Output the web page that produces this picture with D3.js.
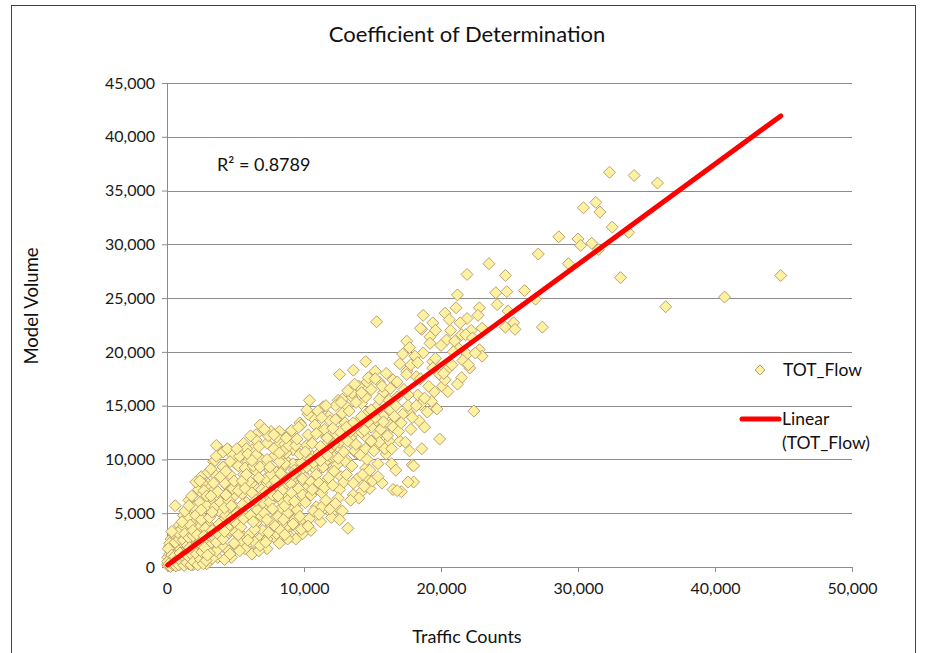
<!DOCTYPE html>
<html>
<head>
<meta charset="utf-8">
<script src="https://cdn.jsdelivr.net/npm/d3@7"></script>
<style>
  body { margin: 0; background: #fff; }
  svg { display: block; font-family: Lato, "Open Sans", sans-serif; }
</style>
</head>
<body>
<svg id="chart" width="927" height="653"></svg>
<script>
// ---- data ----
const trafficCounts = [
32300,34100,35800,30400,31300,31600,32500,33700,28600,30000,30200,31000,31500,29300,33100,44800,40700,36400,
27100,23500,21900,24700,21200,24000,24800,26100,26900,22800,24100,24900,27400,25300,24700,25400,18700,20300,
20600,19400,21900,21400,18600,19600,22200,21500,19200,20400,21000,17500,22800,23000,21900,18700,17700,19400,
22100,20400,19900,21500,17500,18200,20100,19300,18500,17700,22400,18300,19900,15300,18500,18100,14500,17000,
13600,12600,15200,16000,17500,14600,15500,16500,13800,14900,15800,16800,12500,13500,10400,11400,13100,14200,
15300,16300,16200,14600,14100,15100,13000,11900,10700,9700,9000,11200,12300,13500,14500,15300,13700,12600,
11700,10200,9200,8600,10600,11800,13100,11000,12100,9900,9200,10300,11300,12600,11700,17900,18000,16500,
17100,14500,14600,14200,14800,12500,12000,13200,9800,9000,8700,9900,10900,9700,8700,8500,600,6800,7600,8200,
9000,6500,3600,4500,5600,6200,7300,8200,3400,4100,5000,5900,6800,7800,8700,2500,3500,4600,5600,6500,7500,
8500,9200,2300,3300,4400,5300,6300,7300,8200,9100,1600,2700,3700,4800,6800,7800,8700,1400,2400,3400,4400,
5500,7300,8200,9200,900,1900,2900,4000,5000,6500,7600,8700,9500,500,1400,2400,3400,4400,5600,6800,7800,9000,
200,1100,2200,3100,4100,5100,6100,7300,50,700,1800,2800,3700,4700,6200,50,900,1900,2900,
100,300,500,200,600,800,1000,1200,1500,400,700,1300,1700,2000,2200,2500,1000,300,1500,2600,3000,3300,3600,3900,
4200,4500,2000,2300,2700,1800,1200,2000,2600,3000,3300,3800,4300,4600,5000,5300,5700,6000,6400,6700,7000,7300,
7700,8000,8400,8800,9300,4000,4500,5000,5500,6000,6300,6600,7000,7200,7600,8000,8300,8600,9000,9400,9800,10100,
10500,10800,11100,11500,11900,12200,12600,13000,13400,13800,14200,14500,14900,15400,15800,16300,16700,17200,17600,
5200,4800,5800,6500,7400,8000,3000,2600,4200,1500,1100,600,8600,9200,9800,10300,11000,11800,12300,12800,13500,
14000,8200,9400,10500,11200,12000,12800,13600,14000,15000,15700,16400,16800,17600,18000,16000,15500,17000,16500,
17800,18400,19000,18800,19500,20300,20800,19600,21300,20000,21800,22500,23000
];
const modelVolume = [
36700,36400,35700,33400,33900,33000,31600,31100,30700,30500,29900,30100,29500,28200,26900,27100,25100,24200,
29100,28200,27200,27100,25300,25500,25600,25700,24900,24100,24400,23800,22300,22700,22300,22100,23400,23600,
23000,22700,23100,22700,22100,22000,22000,21600,21400,21100,21000,21000,20200,19600,19800,19900,20400,19100,
18500,18300,17900,17600,18200,17700,16800,15400,15100,14300,14500,16000,11900,22800,22200,19600,19100,18900,
18300,17900,18200,18000,17900,17200,17200,17400,16600,16500,16200,15800,15500,15800,15500,14900,14900,15200,
14900,14600,11700,14300,13700,13400,13400,13700,13800,13400,12600,12600,12400,12300,12100,11200,11200,11000,
11500,11300,10900,10000,10300,10000,10000,9000,9000,8700,7900,7500,6900,7200,8100,9500,7900,7200,
7000,9200,8200,7000,7300,5300,5000,3600,4400,5000,3400,3100,5600,6200,6200,7500,5700,13200,12600,12600,
12400,12300,11300,10900,11500,10900,11500,11500,9800,9300,9600,9800,10100,10300,10600,8400,8600,8600,8600,8900,9000,
9300,9600,7200,7300,7500,7600,7600,7800,7900,8100,6200,6200,6400,6500,6500,6500,6700,5000,5300,5100,5300,
5100,5300,5300,5500,3900,4100,4100,4200,4100,4100,3900,3700,3600,2800,2800,3000,2800,3000,2800,2700,2800,2800,
1900,1700,1900,1700,1900,1900,1400,1700,900,800,600,900,900,900,1200,200,200,200,300,
100,500,300,1200,1500,400,1000,600,1500,2000,2500,2200,900,1300,500,2000,3000,2600,3500,1000,2000,800,1500,2600,
700,1500,2600,3600,4500,4300,4800,5600,6800,7700,6000,5200,4800,3400,3200,2300,1700,3000,2300,1500,3400,2600,
4300,3100,4000,5000,4400,6000,7000,5500,6800,8000,5800,7200,6000,8200,7000,8800,6200,9600,7800,8800,9700,8300,
10000,9100,10600,9700,11000,10200,11600,9800,12000,10600,12500,11000,13000,12300,14000,13200,15000,14200,16000,
9400,10400,11000,11800,12200,12100,8800,7800,7800,4600,3600,2900,11400,12000,13200,14200,14500,14000,15000,15600,16200,
16800,2200,2600,3400,4200,4600,5200,6700,6400,8000,7800,9600,7100,7900,9400,10500,11600,11700,13000,
12800,13600,14400,15700,16300,17400,18800,19400,20300,20600,21600,19900,22200
];
// additional points of the dense cloud (same series)
const denseCounts = [
150,250,350,450,550,650,750,850,950,400,200,600,900,100,800,350,
1100,1200,1300,1400,1500,1600,1700,1800,1900,1100,1300,1600,1800,1200,1600,1900,
2100,2200,2300,2400,2500,2600,2700,2800,2900,2100,2400,2800,2200,2900,2500,2700,
3100,3200,3300,3400,3500,3600,3700,3800,3900,3100,3200,3500,3700,3900,3300,3600,
4100,4200,4300,4400,4500,4600,4700,4800,4900,4100,4300,4600,4900,4400,4700,4200,
5100,5200,5300,5400,5500,5600,5700,5800,5900,5100,5300,5500,5700,5900,5200,5800,
6100,6200,6300,6400,6500,6600,6700,6800,6900,6100,6300,6500,6700,6900,6200,6800,
7100,7200,7300,7400,7500,7600,7700,7800,7900,7100,7300,7500,7700,7900,7200,7800,
8100,8200,8300,8400,8500,8600,8700,8800,8900,8100,8300,8500,8700,8900,8200,8600,
9100,9200,9300,9400,9500,9600,9700,9800,9900,9100,9300,9500,9700,9900,9200,9600,
10100,10200,10300,10400,10500,10600,10700,10800,10900,10100,10300,10500,10700,10900,10200,10600,
11100,11200,11300,11400,11500,11600,11700,11800,11900,11100,11300,11500,11700,11900,11200,11600,
12100,12200,12300,12400,12500,12600,12700,12800,12900,12100,12300,12500,12700,12900,12200,12600,
13100,13200,13300,13400,13500,13600,13700,13800,13900,13200,13400,13600,13800,13100,13700,
14100,14200,14300,14400,14500,14600,14700,14800,14900,14200,14400,14700,14900,
15100,15200,15400,15500,15600,15700,15900,15200,15800,15400,
16100,16200,16400,16600,16800,16900,16300,16700,
17100,17300,17400,17600,17800,17900,17200,17700,
18200,18500,18800,19100,19400,19700,18300,19200,18600,
20200,20500,20900,21200,21600,22000,22300,20700,21100,22700,
50,150,250,350,450,550,650,750,850,950,1050,1150,1250,1350,1450,1550,1650,1750,1850,1950,
2050,2150,2250,2350,2450,2550,2650,2750,2850,2950
];
const denseVolumes = [
600,1500,900,1800,700,1200,2000,1500,500,1300,2200,2300,2600,1700,3200,3300,
1300,2500,3100,800,2000,2700,3900,1500,2900,4200,5200,5700,6600,400,300,3400,
4800,3000,1600,6000,4400,2400,7100,3600,5700,7900,8000,1400,800,6600,5300,2900,
4600,9100,3400,7800,5600,2300,7000,4000,8400,1300,6600,9900,3100,6000,5100,10300,
2600,5500,8900,3700,6200,9800,4600,7300,2200,10700,6700,1200,8000,11000,5700,3300,
5000,7100,10300,3700,8000,4500,9200,6000,2500,11000,1500,5800,7300,10500,3000,8600,
4800,6900,9400,3500,10400,5300,8300,2000,7200,12200,4200,6200,11200,4700,9900,9300,
5000,7000,10000,3200,6000,8600,5400,11000,3800,12800,4400,9300,6700,8000,2300,12300,
4700,9800,3400,7100,10800,5700,8300,2600,11300,6600,8700,4400,12000,6300,10600,3000,
6900,4000,9000,11300,5300,7300,10500,3500,8200,12700,6100,11900,4700,6700,8600,13000,
6000,9300,12300,4500,7900,11500,5200,13200,8600,10700,3800,6700,9700,12400,14600,7200,
7800,11200,5600,9300,12800,6200,10400,8300,13600,4900,13900,7400,12000,5400,9900,15000,
7600,11400,13700,9500,6400,12600,8400,14300,10700,12900,5900,10100,15300,7900,8900,4400,
8600,11700,14500,6200,9400,13400,10800,15300,8200,16400,12600,7800,11400,13000,17000,
10400,14000,8600,12700,15800,10000,13500,9000,11700,16200,7500,17600,14600,
10800,13900,9600,15600,12800,16800,11000,17500,13500,8400,
12200,15500,11000,14000,17200,12600,16600,9000,
13400,16500,11600,15000,18800,13900,19800,10800,
15000,17500,13000,16800,18500,14700,19000,20800,11000,
18000,16300,20000,17000,19200,18800,21300,22000,24100,23400,
500,300,50,1100,200,1000,100,700,200,1300,500,1000,150,1200,400,1000,1800,200,1100,500,
1900,1200,200,2200,700,1400,300,1800,600,1100
];
const xTicks = [0, 10000, 20000, 30000, 40000, 50000];
const yTicks = [0, 5000, 10000, 15000, 20000, 25000, 30000, 35000, 40000, 45000];
const trendSlope = [0.933];
const trendIntercept = [140];
const rSquared = ["R\u00B2 = 0.8789"];
const seriesNames = ["TOT_Flow", "Linear", "(TOT_Flow)"];

const allX = trafficCounts.concat(denseCounts);
const allY = modelVolume.concat(denseVolumes);
const n = Math.min(allX.length, allY.length);
const points = allX.slice(0, n).map((x, i) => ({ x, y: allY[i] }));

// ---- drawing ----
const svg = d3.select("#chart");
const x = d3.scaleLinear().domain([0, 50000]).range([167, 852]);
const y = d3.scaleLinear().domain([0, 45000]).range([567, 83]);

// outer border
svg.append("rect").attr("x", 11.5).attr("y", 5.5).attr("width", 904).attr("height", 700)
  .attr("fill", "none").attr("stroke", "#404040").attr("stroke-width", 1);

// gridlines
svg.append("g").selectAll("line").data(yTicks.filter(d => d > 0)).join("line")
  .attr("x1", x(0)).attr("x2", x(50000))
  .attr("y1", d => Math.round(y(d)) + 0.5).attr("y2", d => Math.round(y(d)) + 0.5)
  .attr("stroke", "#8c8c8c").attr("stroke-width", 1);

// axes
const fmt = d3.format(",");
const yAxis = svg.append("g").attr("transform", `translate(${x(0)},0)`)
  .call(d3.axisLeft(y).tickValues(yTicks).tickFormat(fmt).tickSize(5).tickPadding(7));
const xAxis = svg.append("g").attr("transform", `translate(0,${y(0)})`)
  .call(d3.axisBottom(x).tickValues(xTicks).tickFormat(fmt).tickSize(5).tickPadding(11));
[xAxis, yAxis].forEach(a => {
  a.select(".domain").attr("stroke", "#8c8c8c");
  a.selectAll(".tick line").attr("stroke", "#8c8c8c");
  a.selectAll(".tick text").attr("fill", "#1a1a1a").style("font-size", "16px")
    .style("font-family", 'Lato, "Open Sans", sans-serif');
});

// scatter points
const diamond = r => `M0,${-r}L${r},0L0,${r}L${-r},0Z`;
svg.append("g").selectAll("path").data(points).join("path")
  .attr("d", diamond(6))
  .attr("transform", d => `translate(${x(d.x)},${y(d.y)})`)
  .attr("fill", "#FFF1A2").attr("stroke", "#B9A170").attr("stroke-width", 1);

// trend line
const xExt = d3.extent(trafficCounts);
svg.append("line")
  .attr("x1", x(xExt[0])).attr("y1", y(trendSlope[0] * xExt[0] + trendIntercept[0]))
  .attr("x2", x(xExt[1])).attr("y2", y(trendSlope[0] * xExt[1] + trendIntercept[0]))
  .attr("stroke", "#FF0000").attr("stroke-width", 5).attr("stroke-linecap", "round");

// texts
svg.append("text").attr("x", 467).attr("y", 42).attr("text-anchor", "middle")
  .style("font-size", "22px").attr("fill", "#111").text("Coefficient of Determination");
svg.append("text").attr("x", 467).attr("y", 643).attr("text-anchor", "middle")
  .style("font-size", "18px").attr("fill", "#111").text("Traffic Counts");
svg.append("text").attr("transform", "translate(38,306) rotate(-90)").attr("text-anchor", "middle")
  .style("font-size", "18.5px").attr("fill", "#111").text("Model Volume");
svg.append("text").attr("x", 217).attr("y", 171)
  .style("font-size", "18px").attr("fill", "#111").text(rSquared[0]);

// legend
const lg = svg.append("g");
lg.append("path").attr("d", diamond(5)).attr("transform", "translate(760,370)")
  .attr("fill", "#FFF1A2").attr("stroke", "#B9A170").attr("stroke-width", 1);
lg.append("text").attr("x", 783).attr("y", 376).style("font-size", "17.5px").attr("fill", "#111").text(seriesNames[0]);
lg.append("line").attr("x1", 742).attr("x2", 779).attr("y1", 419).attr("y2", 419)
  .attr("stroke", "#FF0000").attr("stroke-width", 5).attr("stroke-linecap", "round");
lg.append("text").attr("x", 782).attr("y", 425).style("font-size", "17.5px").attr("fill", "#111").text(seriesNames[1]);
lg.append("text").attr("x", 782).attr("y", 449).style("font-size", "17.5px").attr("fill", "#111").text(seriesNames[2]);
</script>
</body>
</html>
